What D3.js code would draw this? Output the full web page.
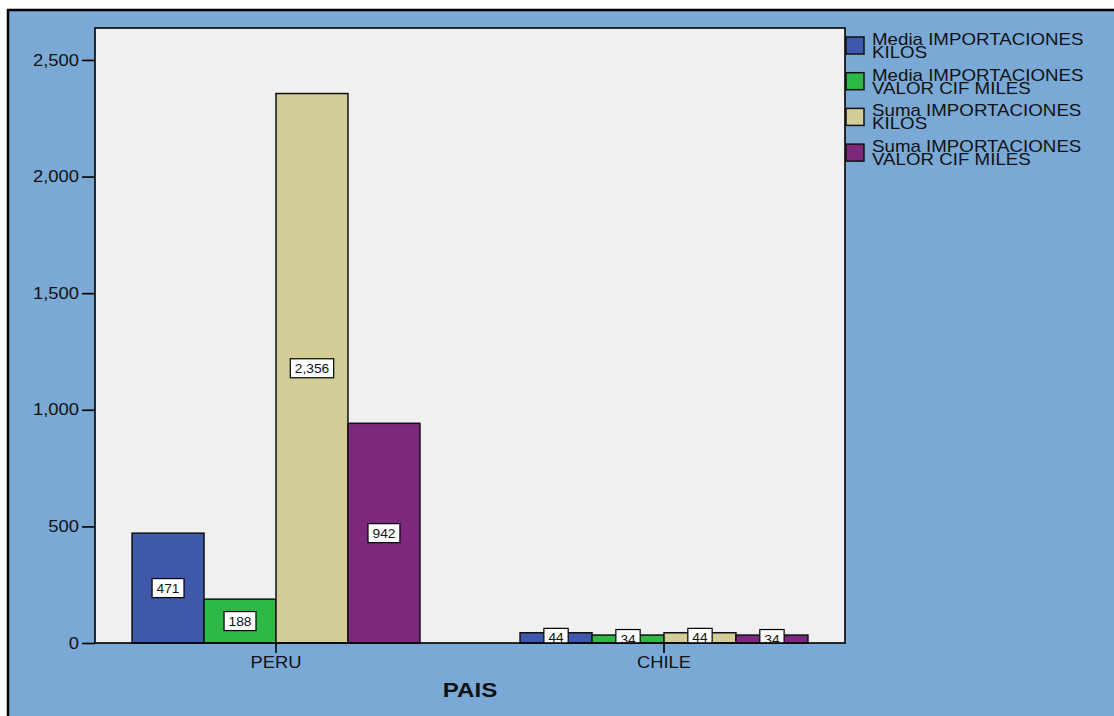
<!DOCTYPE html>
<html>
<head>
<meta charset="utf-8">
<script src="https://cdn.jsdelivr.net/npm/d3@7"></script>
<style>
  body { margin: 0; background: #fff; }
  svg text { font-family: "Liberation Sans", Arial, sans-serif; fill: #111; }
</style>
</head>
<body>
<svg id="chart" width="1114" height="716"></svg>
<script>
// data
var countries = ['PERU', 'CHILE'];
var seriesNames = [
  ['Media IMPORTACIONES', 'KILOS'],
  ['Media IMPORTACIONES', 'VALOR CIF MILES'],
  ['Suma IMPORTACIONES', 'KILOS'],
  ['Suma IMPORTACIONES', 'VALOR CIF MILES']
];
var peruValues = [471, 188, 2356, 942];
var chileValues = [44, 34, 44, 34];
var yTicks = [0, 500, 1000, 1500, 2000, 2500];
var colors = ['#3e58ac', '#2eb848', '#d3ce97', '#7c287d'];

var svg = d3.select('#chart');
var plotBox = { left: 95, top: 28, right: 845, bottom: 643 };
var stretch = 'scale(1.15,1)'; // text in the reference is a bit wide

var rows = countries.map(function (c, i) {
  return { name: c, values: [peruValues, chileValues][i] };
});

// outer frame
svg.append('rect')
  .attr('x', 8)
  .attr('y', 10)
  .attr('width', 1120)
  .attr('height', 720)
  .attr('fill', '#7ba9d6')
  .attr('stroke', '#000')
  .attr('stroke-width', 2.5);

var x0 = d3.scaleBand()
  .domain(countries)
  .range([plotBox.left, plotBox.right])
  .paddingInner(0.258)
  .paddingOuter(0.0955);

var x1 = d3.scaleBand()
  .domain(d3.range(seriesNames.length))
  .range([0, x0.bandwidth()]);

var y = d3.scaleLinear()
  .domain([0, 2637])
  .range([plotBox.bottom, plotBox.top]);

// plot background
svg.append('rect')
  .attr('x', plotBox.left)
  .attr('y', plotBox.top)
  .attr('width', plotBox.right - plotBox.left)
  .attr('height', plotBox.bottom - plotBox.top)
  .attr('fill', '#f0f0f0');

svg.append('clipPath')
  .attr('id', 'plot-clip')
  .append('rect')
  .attr('x', plotBox.left)
  .attr('y', plotBox.top)
  .attr('width', plotBox.right - plotBox.left)
  .attr('height', plotBox.bottom - plotBox.top);

// bars
var groups = svg.append('g')
  .attr('class', 'bars')
  .selectAll('g')
  .data(rows)
  .enter()
  .append('g')
  .attr('transform', function (d) { return 'translate(' + x0(d.name) + ',0)'; });

groups.selectAll('rect')
  .data(function (d) { return d.values; })
  .enter()
  .append('rect')
  .attr('x', function (d, i) { return x1(i); })
  .attr('y', function (d) { return y(d); })
  .attr('width', x1.bandwidth())
  .attr('height', function (d) { return y(0) - y(d); })
  .attr('fill', function (d, i) { return colors[i]; })
  .attr('stroke', '#111')
  .attr('stroke-width', 1.5);

// value labels
var labelLayer = svg.append('g')
  .attr('clip-path', 'url(#plot-clip)');

rows.forEach(function (row) {
  row.values.forEach(function (v, i) {
    var cx = x0(row.name) + x1(i) + x1.bandwidth() / 2;
    var cy = (y(v) + y(0)) / 2;
    var lab = labelLayer.append('g')
      .attr('transform', 'translate(' + cx + ',' + cy + ')');
    var txt = lab.append('text')
      .attr('text-anchor', 'middle')
      .attr('dy', '0.36em')
      .attr('font-size', 12.5)
      .attr('transform', 'scale(1.1,1)')
      .text(d3.format(',')(v));
    var w = txt.node().getComputedTextLength() * 1.1 + 9;
    lab.insert('rect', 'text')
      .attr('x', -w / 2)
      .attr('y', -9.5)
      .attr('width', w)
      .attr('height', 19)
      .attr('fill', '#fff')
      .attr('stroke', '#000')
      .attr('stroke-width', 1.2);
  });
});

// plot border
svg.append('rect')
  .attr('x', plotBox.left)
  .attr('y', plotBox.top)
  .attr('width', plotBox.right - plotBox.left)
  .attr('height', plotBox.bottom - plotBox.top)
  .attr('fill', 'none')
  .attr('stroke', '#000')
  .attr('stroke-width', 1.6);

// axes
var yAxis = svg.append('g')
  .attr('transform', 'translate(' + plotBox.left + ',0)')
  .call(d3.axisLeft(y).tickValues(yTicks).tickFormat(d3.format(',')).tickSize(13).tickPadding(3));
yAxis.select('.domain').remove();
yAxis.selectAll('line').attr('stroke', '#000').attr('stroke-width', 1.6);
yAxis.selectAll('text')
  .attr('font-size', 16)
  .attr('font-family', '"Liberation Sans", Arial, sans-serif')
  .attr('fill', '#111')
  .attr('x', -16 / 1.15)
  .attr('transform', stretch);

var xAxis = svg.append('g')
  .attr('transform', 'translate(0,' + plotBox.bottom + ')')
  .call(d3.axisBottom(x0).tickSize(10).tickPadding(4));
xAxis.select('.domain').remove();
xAxis.selectAll('line').attr('stroke', '#000').attr('stroke-width', 1.6);
xAxis.selectAll('text')
  .attr('font-size', 16)
  .attr('font-family', '"Liberation Sans", Arial, sans-serif')
  .attr('fill', '#111')
  .attr('y', 14)
  .attr('transform', stretch);
xAxis.selectAll('.tick')
  .attr('transform', function (d) { return 'translate(' + (x0(d) + x0.bandwidth() / 2) + ',0)'; });

// axis title
svg.append('text')
  .attr('transform', 'translate(' + ((plotBox.left + plotBox.right) / 2) + ',697) ' + stretch)
  .attr('text-anchor', 'middle')
  .attr('font-size', 21)
  .attr('font-weight', 'bold')
  .attr('fill', '#000')
  .text('PAIS');

// legend
var legend = svg.append('g')
  .attr('class', 'legend')
  .selectAll('g')
  .data(seriesNames)
  .enter()
  .append('g')
  .attr('transform', function (d, i) { return 'translate(846,' + (37 + i * 35.7) + ')'; });

legend.append('rect')
  .attr('width', 18)
  .attr('height', 17)
  .attr('fill', function (d, i) { return colors[i]; })
  .attr('stroke', '#111')
  .attr('stroke-width', 1.5);

// two-line label kept in one text element
var legendText = legend.append('text')
  .attr('transform', 'translate(26,8) scale(1.17,1)')
  .attr('font-size', 16);

legendText.selectAll('tspan')
  .data(function (d) { return d; })
  .enter()
  .append('tspan')
  .attr('x', 0)
  .attr('dy', function (d, j) { return j === 0 ? 0 : 13; })
  .text(String);
</script>
</body>
</html>
